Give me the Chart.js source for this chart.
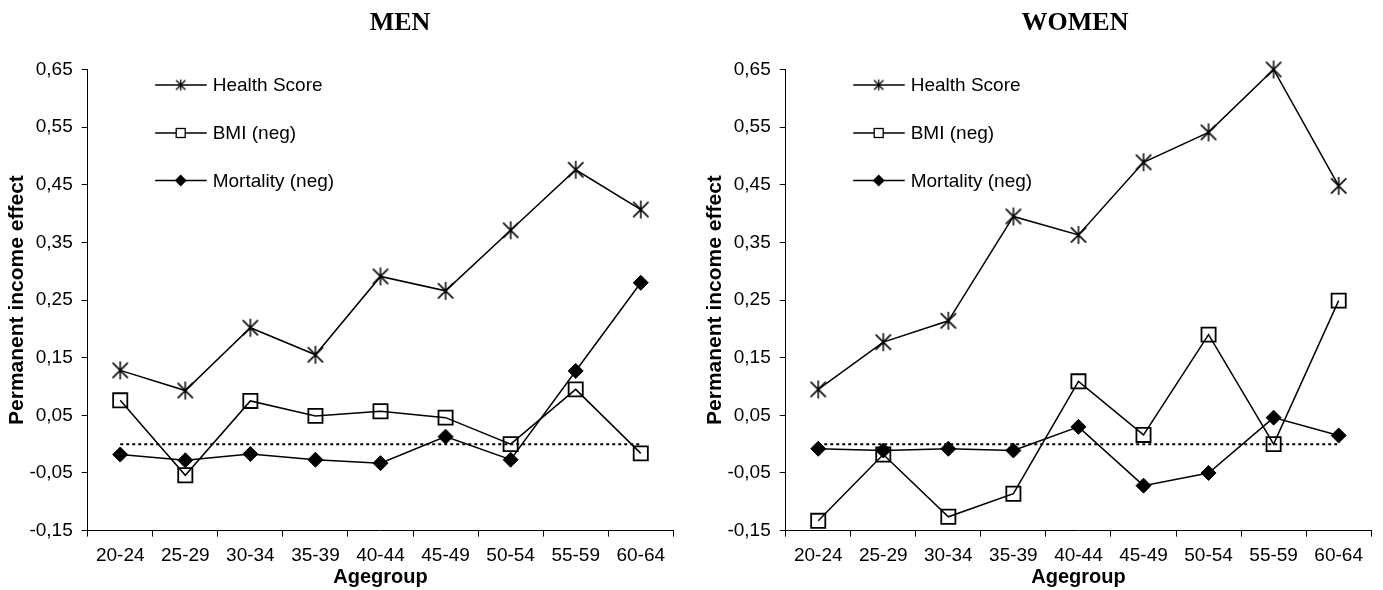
<!DOCTYPE html>
<html>
<head>
<meta charset="utf-8">
<script src="https://cdn.jsdelivr.net/npm/chart.js@4.4.0/dist/chart.umd.min.js"></script>
<style>
  html, body { margin: 0; padding: 0; background: #fff; }
  #wrap { position: relative; width: 1383px; height: 590px; overflow: hidden; }
  .panel { position: absolute; top: 0; height: 590px; }
</style>
</head>
<body>
<div id="wrap">
  <div class="panel" style="left:0;width:698px"><canvas id="men" width="698" height="590"></canvas></div>
  <div class="panel" style="left:698px;width:685px"><canvas id="women" width="685" height="590"></canvas></div>
</div>
<script>
// Age groups on the x axis
const ageGroups = ['20-24', '25-29', '30-34', '35-39', '40-44', '45-49', '50-54', '55-59', '60-64'];
// Y axis tick values
const yTicks = [-0.15, -0.05, 0.05, 0.15, 0.25, 0.35, 0.45, 0.55, 0.65];
const seriesNames = ['Health Score', 'BMI (neg)', 'Mortality (neg)'];

// Men
const menHealth    = [0.128, 0.093, 0.202, 0.155, 0.291, 0.266, 0.371, 0.476, 0.407];
const menBMI       = [0.076, -0.054, 0.075, 0.049, 0.057, 0.046, 0.000, 0.095, -0.016];
const menMortality = [-0.018, -0.028, -0.017, -0.027, -0.033, 0.013, -0.027, 0.127, 0.280];

// Women
const womenHealth    = [0.095, 0.177, 0.214, 0.395, 0.363, 0.489, 0.541, 0.650, 0.448];
const womenBMI       = [-0.133, -0.018, -0.126, -0.086, 0.109, 0.016, 0.190, 0.000, 0.249];
const womenMortality = [-0.008, -0.011, -0.008, -0.011, 0.030, -0.072, -0.050, 0.046, 0.015];

// Reference line at zero
const zeroLine = ageGroups.map(() => 0);

const FONT = '"Liberation Sans", Arial, sans-serif';

// Asterisk marker: an X with a vertical stroke
function asteriskMarker(size, lw) {
  const c = document.createElement('canvas');
  c.width = size; c.height = size;
  const g = c.getContext('2d');
  const h = size / 2, r = h - 1;
  g.strokeStyle = '#000';
  g.lineWidth = lw;
  g.beginPath();
  g.moveTo(h - r * 0.85, h - r * 0.85); g.lineTo(h + r * 0.85, h + r * 0.85);
  g.moveTo(h + r * 0.85, h - r * 0.85); g.lineTo(h - r * 0.85, h + r * 0.85);
  g.moveTo(h, h - r); g.lineTo(h, h + r);
  g.stroke();
  return c;
}
const starBig = asteriskMarker(20, 1.5);
const starSmall = asteriskMarker(13, 1.3);

// Title and in-plot legend
const decor = {
  id: 'decor',
  afterDraw(chart, args, opts) {
    const { ctx, chartArea: a } = chart;
    ctx.save();
    ctx.fillStyle = '#000';
    ctx.textAlign = 'center';
    ctx.textBaseline = 'middle';
    ctx.font = 'bold 26px "Liberation Serif", "Times New Roman", serif';
    ctx.fillText(opts.title, opts.titleX, 23);

    const x0 = a.left + 67.5, x1 = a.left + 119, mx = a.left + 93, tx = a.left + 125;
    const rows = [a.top + 15.5, a.top + 63.5, a.top + 111];
    ctx.font = '19px ' + FONT;
    ctx.textAlign = 'left';
    rows.forEach((y, i) => {
      ctx.strokeStyle = '#000';
      ctx.lineWidth = 1.5;
      ctx.beginPath(); ctx.moveTo(x0, y); ctx.lineTo(x1, y); ctx.stroke();
      if (i === 0) {
        ctx.drawImage(starSmall, mx - 6.5, y - 6.5);
      } else if (i === 1) {
        ctx.fillStyle = '#fff';
        ctx.fillRect(mx - 4.5, y - 4.5, 9, 9);
        ctx.lineWidth = 1.3;
        ctx.strokeRect(mx - 4.5, y - 4.5, 9, 9);
        ctx.fillStyle = '#000';
      } else {
        ctx.beginPath();
        ctx.moveTo(mx, y - 6); ctx.lineTo(mx + 6, y); ctx.lineTo(mx, y + 6); ctx.lineTo(mx - 6, y);
        ctx.closePath(); ctx.fill();
      }
      ctx.fillText(seriesNames[i], tx, y + 1);
    });
    ctx.restore();
  }
};

function buildChart(id, health, bmi, mortality, title, titleX, width) {
  const plotRight = width === 698 ? 673.3 : 674;
  return new Chart(document.getElementById(id), {
    type: 'line',
    data: {
      labels: ageGroups,
      datasets: [
        {
          label: seriesNames[0], data: health,
          borderColor: '#000', borderWidth: 1.5,
          pointStyle: starBig, pointRadius: 10,
          clip: false
        },
        {
          label: seriesNames[1], data: bmi,
          borderColor: '#000', borderWidth: 1.5,
          pointStyle: 'rect', pointRadius: 10,
          pointBorderWidth: 1.8, pointBorderColor: '#000',
          pointBackgroundColor: 'rgba(0,0,0,0)',
          clip: false
        },
        {
          label: seriesNames[2], data: mortality,
          borderColor: '#000', borderWidth: 1.5,
          pointStyle: 'rectRot', pointRadius: 7.5,
          pointBorderWidth: 1, pointBorderColor: '#000',
          pointBackgroundColor: '#000',
          clip: false
        },
        {
          label: 'zero', data: zeroLine,
          borderColor: '#000', borderWidth: 2, borderDash: [3, 3],
          pointRadius: 0
        }
      ]
    },
    options: {
      responsive: false,
      animation: false,
      events: [],
      devicePixelRatio: 1,
      layout: { padding: { top: 69.5, left: 0, right: width - plotRight, bottom: 0 } },
      plugins: {
        legend: { display: false },
        tooltip: { enabled: false },
        decor: { title: title, titleX: titleX }
      },
      scales: {
        x: {
          offset: true,
          grid: { offset: true, drawOnChartArea: false, drawTicks: true, tickLength: 6, color: '#000', lineWidth: 1 },
          border: { display: true, color: '#000', width: 1 },
          ticks: { color: '#000', font: { family: FONT, size: 19 }, padding: 8, maxRotation: 0, autoSkip: false },
          title: { display: true, text: 'Agegroup', color: '#000', font: { family: FONT, size: 20, weight: 'bold' }, padding: { top: 0, bottom: 1 } },
          afterFit(scale) { scale.height = 59.4; }
        },
        y: {
          min: -0.15, max: 0.65,
          grid: { drawOnChartArea: false, drawTicks: true, tickLength: 6, color: '#000', lineWidth: 1 },
          border: { display: true, color: '#000', width: 1 },
          ticks: {
            color: '#000', font: { family: FONT, size: 19 }, padding: 9,
            callback: (v) => v.toFixed(2).replace('.', ',')
          },
          afterBuildTicks(scale) { scale.ticks = yTicks.map(v => ({ value: v })); },
          title: { display: true, text: 'Permanent income effect', color: '#000', font: { family: FONT, size: 21, weight: 'bold' }, padding: { top: 5, bottom: 0 } },
          afterFit(scale) { scale.width = 87.7; }
        }
      }
    },
    plugins: [decor]
  });
}

buildChart('men', menHealth, menBMI, menMortality, 'MEN', 400, 698);
buildChart('women', womenHealth, womenBMI, womenMortality, 'WOMEN', 377, 685);
</script>
</body>
</html>
